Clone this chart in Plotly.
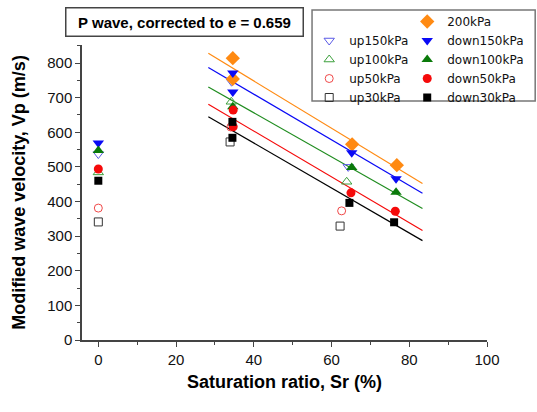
import plotly.graph_objects as go

# ---- data ----
x_200 = [34.6, 34.6, 65.3, 76.8]
y_200 = [814, 754, 565, 505]

x_down150 = [0, 34.6, 34.6, 65.2, 76.6]
y_down150 = [569, 771, 716, 541, 466]
x_up150 = [0, 34.3, 64.3]
y_up150 = [537, 746, 500]

x_down100 = [0, 34.6, 65.2, 76.6]
y_down100 = [547, 674, 498, 427]
x_up100 = [0, 34.2, 63.9]
y_up100 = [484, 688, 457]

x_down50 = [0, 34.7, 34.7, 65.0, 76.4]
y_down50 = [494, 664, 616, 425, 372]
x_up50 = [0, 34.1, 62.6]
y_up50 = [381, 615, 373]

x_down30 = [0, 34.5, 34.5, 64.6, 76.1]
y_down30 = [460, 630, 584, 396, 340]
x_up30 = [0, 33.9, 62.2]
y_up30 = [341, 572, 329]

# fitted trend lines (end points)
fit_x = [28.3, 83.4]
fit_200 = [828, 452]
fit_150 = [787, 424]
fit_100 = [731, 380]
fit_50 = [681, 316]
fit_30 = [645, 287]

x_ticks = [0, 20, 40, 60, 80, 100]
y_ticks = [0, 100, 200, 300, 400, 500, 600, 700, 800]

ORANGE = "#FF8A12"
BLUE = "#0A0AF5"
GREEN = "#0A7A0A"
RED = "#F50A0A"
BLACK = "#000000"

fig = go.Figure()

for fy, col in [(fit_200, ORANGE), (fit_150, BLUE), (fit_100, "#1E8C1E"),
                (fit_50, RED), (fit_30, BLACK)]:
    fig.add_trace(go.Scatter(x=fit_x, y=fy, mode="lines",
                             line=dict(color=col, width=1.2),
                             showlegend=False, hoverinfo="skip"))

def pts(x, y, name, sym, color, size, legend, filled=True):
    if filled:
        m = dict(symbol=sym, color=color, size=size, line=dict(width=0))
    else:
        m = dict(symbol=sym + "-open", color=color, size=size,
                 line=dict(width=1, color=color))
    fig.add_trace(go.Scatter(x=x, y=y, mode="markers", name=name, marker=m,
                             legend=legend))

pts(x_up150, y_up150, "up150kPa", "triangle-down", "#5A5AE6", 9, "legend", False)
pts(x_up100, y_up100, "up100kPa", "triangle-up", "#3CA03C", 9, "legend", False)
pts(x_up50, y_up50, "up50kPa", "circle", "#F04848", 8, "legend", False)
pts(x_up30, y_up30, "up30kPa", "square", "#333333", 8, "legend", False)

pts(x_200, y_200, "200kPa", "diamond", ORANGE, 11, "legend2")
pts(x_down150, y_down150, "down150kPa", "triangle-down", BLUE, 10, "legend2")
pts(x_down100, y_down100, "down100kPa", "triangle-up", GREEN, 10, "legend2")
pts(x_down50, y_down50, "down50kPa", "circle", RED, 9, "legend2")
pts(x_down30, y_down30, "down30kPa", "square", BLACK, 8, "legend2")

tickfont = dict(family="Liberation Sans, Arial", size=15, color="#111")
titlefont = dict(family="Liberation Sans, Arial", size=18, color="#000")
legfont = dict(family="DejaVu Sans, Liberation Sans", size=12, color="#111")

fig.update_layout(
    width=537, height=412,
    margin=dict(l=82, r=50, t=45, b=72, autoexpand=False),
    paper_bgcolor="white", plot_bgcolor="white",
    font=dict(family="Liberation Sans, Arial", color="#111"),
    xaxis=dict(range=[-4.2, 100], tickvals=x_ticks, showgrid=False, zeroline=False,
               showline=True, linecolor="#444", linewidth=1.5,
               ticks="outside", ticklen=5, tickwidth=1.2, tickcolor="#444",
               minor=dict(dtick=10, tick0=0, ticks="outside", ticklen=3, tickcolor="#444"),
               tickfont=tickfont,
               title=dict(text="<b>Saturation ratio, Sr (%)</b>", font=titlefont, standoff=9)),
    yaxis=dict(range=[0, 852], tickvals=y_ticks, showgrid=False, zeroline=False,
               showline=True, linecolor="#444", linewidth=1.5,
               ticks="outside", ticklen=5, tickwidth=1.2, tickcolor="#444",
               minor=dict(dtick=50, tick0=0, ticks="outside", ticklen=3, tickcolor="#444"),
               tickfont=tickfont,
               title=dict(text="<b>Modified wave velocity, Vp (m/s)</b>", font=titlefont, standoff=17)),
    legend=dict(x=0.561, y=1.0644, xanchor="left", yanchor="top",
                bgcolor="rgba(0,0,0,0)", borderwidth=0, font=legfont),
    legend2=dict(x=0.803, y=1.1288, xanchor="left", yanchor="top",
                 bgcolor="rgba(0,0,0,0)", borderwidth=0, font=legfont),
    shapes=[dict(type="rect", xref="paper", yref="paper",
                 x0=0.568, x1=1.119, y0=0.8102, y1=1.119,
                 line=dict(color="#777", width=1.5), layer="above")],
    annotations=[dict(xref="paper", yref="paper", x=0.252, y=1.078,
                      xanchor="center", yanchor="middle", showarrow=False,
                      text="<b>P wave, corrected to e = 0.659</b>",
                      font=dict(family="Liberation Sans, Arial", size=15, color="#000"),
                      bordercolor="#444", borderwidth=1.5, borderpad=5,
                      bgcolor="white", width=226)],
)

fig.write_html("out.html", config={"displayModeBar": False},
               post_script="document.body.style.margin='0';")
